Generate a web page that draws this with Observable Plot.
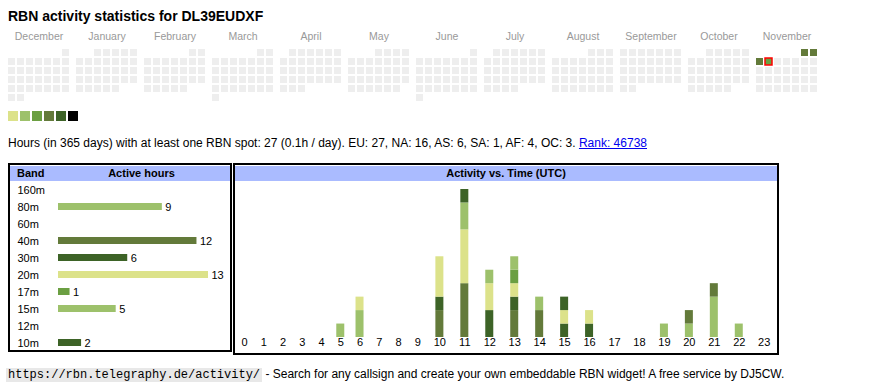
<!DOCTYPE html>
<html><head><meta charset="utf-8">
<script src="https://cdn.jsdelivr.net/npm/d3@7"></script>
<script src="https://cdn.jsdelivr.net/npm/@observablehq/plot@0.6"></script>
<style>
body{margin:0;background:#fff;font-family:"Liberation Sans",Arial,sans-serif;color:#000;}
#root{position:relative;width:870px;height:390px;overflow:hidden;}
.abs{position:absolute;white-space:nowrap;}
.box{position:absolute;box-sizing:border-box;border:2px solid #000;}
.hdr{position:absolute;background:#aabbff;}
.b11{font-size:11px;line-height:11px;font-weight:bold;}
svg{position:absolute;overflow:visible;}
</style></head><body><div id="root"></div>
<script>
// ---------- data ----------
const callsign = "DL39EUDXF";
const monthNames = ["December","January","February","March","April","May","June","July","August","September","October","November"];
const calendarStart = "2024-12-01";
const calendarEnd = "2025-12-01";
const activeDays = ["2025-11-01","2025-11-02","2025-11-03","2025-11-04"];
const activeLevels = [4,4,4,3];
const todayDate = "2025-11-04";
const levelColors = ["#dce28a","#9dc16b","#6b9f42","#637a3a","#3d6327","#000000"];
const emptyColor = "#eeeeee";

const statDays = 365;
const statHours = 27;
const statPerDay = "0.1";
const continents = ["EU","NA","AS","SA","AF","OC"];
const continentHours = [27,16,6,1,4,3];
const rank = 46738;

const bands = ["160m","80m","60m","40m","30m","20m","17m","15m","12m","10m"];
const bandColors = ["#dce28a","#9dc16b","#6b9f42","#637a3a","#3d6327","#dce28a","#6b9f42","#9dc16b","#6b9f42","#3d6327"];
const bandHours = [0,9,0,12,6,13,1,5,0,2];

const hourLabels = ["0","1","2","3","4","5","6","7","8","9","10","11","12","13","14","15","16","17","18","19","20","21","22","23"];
const h160m = [0,0,0,0,0,0,0,0,0,0,0,0,0,0,0,0,0,0,0,0,0,0,0,0];
const h80m  = [0,0,0,0,0,1,2,0,0,0,0,0,0,0,0,0,0,0,0,1,1,3,1,0];
const h60m  = [0,0,0,0,0,0,0,0,0,0,0,0,0,0,0,0,0,0,0,0,0,0,0,0];
const h40m  = [0,0,0,0,0,0,0,0,0,0,2,4,0,2,2,0,0,0,0,0,1,1,0,0];
const h30m  = [0,0,0,0,0,0,0,0,0,0,1,0,2,1,0,1,1,0,0,0,0,0,0,0];
const h20m  = [0,0,0,0,0,0,1,0,0,0,3,4,2,1,0,1,1,0,0,0,0,0,0,0];
const h17m  = [0,0,0,0,0,0,0,0,0,0,0,0,0,1,0,0,0,0,0,0,0,0,0,0];
const h15m  = [0,0,0,0,0,0,0,0,0,0,0,2,1,1,1,0,0,0,0,0,0,0,0,0];
const h12m  = [0,0,0,0,0,0,0,0,0,0,0,0,0,0,0,0,0,0,0,0,0,0,0,0];
const h10m  = [0,0,0,0,0,0,0,0,0,0,0,1,0,0,0,1,0,0,0,0,0,0,0,0];
const hourlyByBand = [h160m,h80m,h60m,h40m,h30m,h20m,h17m,h15m,h12m,h10m];

// ---------- page ----------
const root = document.getElementById("root");
const FONT = '"Liberation Sans",Arial,sans-serif';
function el(tag, cls, style, html){const e=document.createElement(tag); if(cls) e.className=cls; Object.assign(e.style, style||{}); if(html!=null) e.innerHTML=html; root.appendChild(e); return e;}
function place(svg, left, top){svg.style.left=left+"px"; svg.style.top=top+"px"; root.appendChild(svg);}

el("div","abs",{left:"8px",top:"9px",fontSize:"14px",lineHeight:"14px",fontWeight:"bold"},`RBN activity statistics for ${callsign}`);

// calendar
const parse = d3.utcParse("%Y-%m-%d");
const start = parse(calendarStart), end = parse(calendarEnd);
const levelByDay = new Map(activeDays.map((d,i)=>[d, activeLevels[i]]));
const fmt = d3.utcFormat("%Y-%m-%d");
const days = d3.utcDays(start, end).map(date => {
  const m = (date.getUTCFullYear()-start.getUTCFullYear())*12 + date.getUTCMonth()-start.getUTCMonth();
  const first = new Date(Date.UTC(date.getUTCFullYear(), date.getUTCMonth(), 1));
  const firstDow = (first.getUTCDay()+6)%7;
  const dow = (date.getUTCDay()+6)%7;
  const row = Math.floor((date.getUTCDate()-1+firstDow)/7);
  const key = fmt(date);
  const lvl = levelByDay.get(key);
  return {m, dow, row, color: lvl ? levelColors[lvl-1] : emptyColor, today: key===todayDate};
});

const cal = Plot.plot({
  width: 870, height: 75, marginLeft: 8, marginRight: 53, marginTop: 23, marginBottom: 0,
  style: {fontFamily: FONT, fontSize: "10.5px", color: "#999", background: "transparent"},
  facet: {data: days, x: "m"},
  fx: {domain: d3.range(12), paddingInner: 7/68, paddingOuter: 0, axis: "top", tickSize: 0, tickPadding: 10, tickFormat: i => monthNames[i], label: null},
  x: {domain: d3.range(7), paddingInner: 2/9, paddingOuter: 0, axis: null},
  y: {domain: d3.range(6), paddingInner: 2/9, paddingOuter: 0, axis: null},
  color: {type: "identity"},
  marks: [
    Plot.cell(days, {x: "dow", y: "row", fill: "color"}),
    Plot.cell(days, {filter: d => d.today, x: "dow", y: "row", fill: "none", stroke: "#ff0000", strokeWidth: 1.5})
  ]
});
place(cal, 0, 26);

// legend
const leg = Plot.plot({
  width: 90, height: 16, marginTop: 3, marginBottom: 3, marginLeft: 8, marginRight: 12,
  style: {background: "transparent"},
  x: {domain: levelColors, paddingInner: 2/12, paddingOuter: 0, axis: null},
  color: {type: "identity"},
  marks: [Plot.cell(levelColors, {x: d => d, fill: d => d})]
});
place(leg, 0, 108);

// stats text
const contText = continents.map((c,i)=>`${c}: ${continentHours[i]}`).join(", ");
el("div","abs",{left:"8px",top:"136.8px",fontSize:"12px",lineHeight:"12px"},
  `Hours (in ${statDays} days) with at least one RBN spot: ${statHours} (${statPerDay}h / day). ${contText}. <a href="#" style="color:#0000ee;text-decoration:underline">Rank: ${rank}</a>`);

// boxes
el("div","box",{left:"8px",top:"163px",width:"224px",height:"189px"});
el("div","hdr",{left:"10px",top:"166px",width:"220px",height:"15px"});
el("div","box",{left:"233px",top:"163px",width:"546px",height:"192px"});
el("div","hdr",{left:"235px",top:"166px",width:"542px",height:"15px"});
el("div","abs b11",{left:"17px",top:"167.5px"},"Band");
el("div","abs b11",{left:"141.5px",top:"167.5px",transform:"translateX(-50%)"},"Active hours");
el("div","abs b11",{left:"506px",top:"167.5px",transform:"translateX(-50%)"},"Activity vs. Time (UTC)");

// band bars
const bandRows = bands.map((b,i)=>({band:b, hours:bandHours[i], color:bandColors[i]}));
const bandPlot = Plot.plot({
  width: 220, height: 170, marginTop: 0, marginBottom: 0, marginLeft: 48, marginRight: 22,
  style: {fontFamily: FONT, fontSize: "11px", color: "#000", background: "transparent"},
  x: {domain: [0, d3.max(bandHours)], axis: null},
  y: {domain: bands, padding: 0, axis: null},
  color: {type: "identity"},
  marks: [
    Plot.barX(bandRows, {x: "hours", y: "band", fill: "color", insetTop: 5, insetBottom: 5}),
    Plot.text(bandRows, {y: "band", text: "band", frameAnchor: "left", textAnchor: "start", dx: -41, fill: "#000"}),
    Plot.text(bandRows.filter(d => d.hours > 0), {x: "hours", y: "band", text: "hours", textAnchor: "start", dx: 3, fill: "#000"})
  ]
});
place(bandPlot, 10, 181);

// hourly stacked bars: column widths follow label length like an auto-layout table
const COL_PAD = 13.55, DIGIT_W = 5.7, BAR_W = 8;
let acc = 0;
const hourCols = hourLabels.map(lab => {
  const w = COL_PAD + DIGIT_W*lab.length;
  const c = {label: lab, xl: acc, xc: acc + w/2};
  acc += w;
  return c;
});
const totalW = acc;
const flat = [];
bands.forEach((b,bi)=>{
  hourlyByBand[bi].forEach((v,h)=>{
    if (v>0) flat.push({band:b, hour:h, count:v, color:bandColors[bi], xc:hourCols[h].xc, x1:hourCols[h].xc-BAR_W/2, x2:hourCols[h].xc+BAR_W/2});
  });
});
const totals = hourLabels.map((_,h)=>d3.sum(hourlyByBand, a=>a[h]));
const hourPlot = Plot.plot({
  width: 543, height: 172, marginTop: 0, marginBottom: 0, marginLeft: 0, marginRight: 0,
  style: {fontFamily: FONT, fontSize: "11px", color: "#000", background: "transparent"},
  x: {type: "linear", domain: [0, totalW], range: [0.4, 0.4 + totalW], axis: null},
  y: {domain: [0, d3.max(totals)], range: [155, 7], axis: null},
  color: {type: "identity"},
  marks: [
    Plot.rect(flat, Plot.stackY({x: "xc", x1: "x1", x2: "x2", y: "count", fill: "color"})),
    Plot.text(hourCols, {x: "xc", text: "label", frameAnchor: "bottom", dy: -8.5, fill: "#000"})
  ]
});
place(hourPlot, 234, 182);

// footer
el("div","abs",{left:"6px",top:"368px",fontSize:"12px",lineHeight:"12px"},
  `<span style="font-family:'Liberation Mono',monospace;font-size:12px;background:#e8e8e8;padding:0 2px">https://rbn.telegraphy.de/activity/</span> - Search for any callsign and create your own embeddable RBN widget! A free service by DJ5CW.`);
</script></body></html>
